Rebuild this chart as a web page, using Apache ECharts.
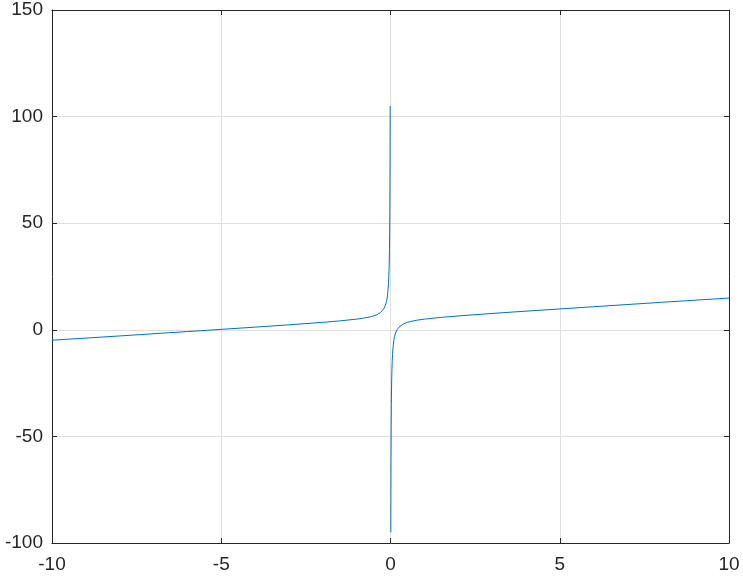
<!DOCTYPE html>
<html><head><meta charset="utf-8">
<script src="https://cdn.jsdelivr.net/npm/echarts@6/dist/echarts.min.js"></script>
<style>html,body{margin:0;padding:0;background:#fff}#c{width:743px;height:577px}</style>
</head><body><div id="c"></div>
<script>
var xLeft = [-10, -8, -6, -4, -3, -2, -1.5, -1, -0.8, -0.6, -0.5, -0.4, -0.3, -0.25, -0.2, -0.15, -0.12, -0.1, -0.08, -0.06, -0.05, -0.04, -0.03, -0.025, -0.02, -0.015, -0.012, -0.01];
var yLeft = [-4.9, -2.88, -0.83, 1.25, 2.33, 3.5, 4.17, 5.0, 5.45, 6.07, 6.5, 7.1, 8.03, 8.75, 9.8, 11.52, 13.21, 14.9, 17.42, 21.61, 24.95, 29.96, 38.3, 44.98, 54.98, 71.65, 88.32, 104.99];
var xRight = [0.01, 0.012, 0.015, 0.02, 0.025, 0.03, 0.04, 0.05, 0.06, 0.08, 0.1, 0.12, 0.15, 0.2, 0.25, 0.3, 0.4, 0.5, 0.6, 0.8, 1, 1.5, 2, 3, 4, 6, 8, 10];
var yRight = [-94.99, -78.32, -61.65, -44.98, -34.98, -28.3, -19.96, -14.95, -11.61, -7.42, -4.9, -3.21, -1.52, 0.2, 1.25, 1.97, 2.9, 3.5, 3.93, 4.55, 5.0, 5.83, 6.5, 7.67, 8.75, 10.83, 12.88, 14.9];
var xTicks = [-10, -5, 0, 5, 10];
var yTicks = [-100, -50, 0, 50, 100, 150];

var data = [];
for (var i = 0; i < xLeft.length; i++) data.push([xLeft[i], yLeft[i]]);
data.push([0, null]);
for (var j = 0; j < xRight.length; j++) data.push([xRight[j], yRight[j]]);

var txt = '#262626';
var font = 'Liberation Sans, Arial, sans-serif';
function ax(pos, show, isX) {
  var t = isX ? xTicks : yTicks;
  return {
    type: 'value', position: pos,
    min: t[0], max: t[t.length - 1], interval: t[1] - t[0],
    axisLine: {show: true, onZero: false, lineStyle: {color: txt, width: 1}},
    axisTick: {show: true, inside: true, length: 5, lineStyle: {color: txt}},
    axisLabel: {show: show, color: txt, fontSize: 19, fontFamily: font, margin: isX ? 12 : 9},
    splitLine: {show: show, lineStyle: {color: '#dfdfdf', width: 1}}
  };
}
var chart = echarts.init(document.getElementById('c'));
chart.setOption({
  animation: false,
  grid: {left: 52, right: 14, top: 10, bottom: 34, containLabel: false},
  xAxis: [ax('bottom', true, true), ax('top', false, true)],
  yAxis: [ax('left', true, false), ax('right', false, false)],
  series: [{
    type: 'line', data: data, showSymbol: false, connectNulls: false,
    lineStyle: {color: '#0072BD', width: 1}, clip: true
  }]
});
</script></body></html>
